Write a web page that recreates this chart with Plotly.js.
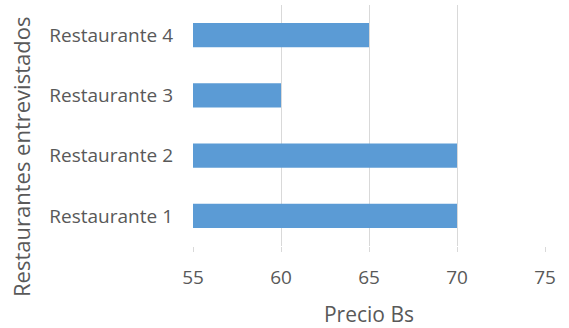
<!DOCTYPE html>
<html>
<head>
<meta charset="utf-8">
<script src="https://cdn.plot.ly/plotly-3.0.1.min.js"></script>
<style>html,body{margin:0;padding:0;background:#fff;}#chart{width:569px;height:328px;}</style>
</head>
<body>
<div id="chart"></div>
<script>
const categories = ["Restaurante 1", "Restaurante 2", "Restaurante 3", "Restaurante 4"];
const precios = [70, 70, 60, 65];
const xTicks = [55, 60, 65, 70, 75];

const FONT = "Open Sans, Liberation Sans, sans-serif";
const GRAY = "#595959";

const trace = {
  type: "bar",
  orientation: "h",
  y: categories,
  x: precios.map(v => v - 55),
  base: 55,
  width: 0.4,
  marker: {color: "#5B9BD5", line: {width: 0}},
  hoverinfo: "x+y"
};

const layout = {
  width: 569,
  height: 328,
  margin: {l: 193, r: 24, t: 5, b: 82},
  paper_bgcolor: "#fff",
  plot_bgcolor: "#fff",
  showlegend: false,
  font: {family: FONT, color: GRAY, size: 19},
  xaxis: {
    range: [55, 75],
    tickvals: xTicks,
    ticktext: xTicks.map(String),
    showgrid: true,
    gridcolor: "#D9D9D9",
    gridwidth: 1,
    zeroline: false,
    showline: false,
    ticks: "outside",
    ticklen: 5,
    tickcolor: "#D9D9D9",
    ticklabelstandoff: 9,
    tickfont: {family: FONT, size: 19, color: GRAY},
    title: {text: "Precio Bs", font: {family: FONT, size: 21, color: GRAY}, standoff: 18}
  },
  yaxis: {
    type: "category",
    categoryarray: categories,
    showgrid: false,
    zeroline: false,
    showline: false,
    ticks: "",
    ticklabelstandoff: 19,
    tickfont: {family: FONT, size: 19, color: GRAY}
  },
  annotations: [{
    text: "Restaurantes entrevistados",
    textangle: -90,
    xref: "paper", yref: "paper",
    x: (21 - 193) / 352, y: (246 - 157) / 241,
    xanchor: "center", yanchor: "middle",
    showarrow: false,
    font: {family: FONT, size: 22, color: GRAY}
  }]
};

Plotly.newPlot("chart", [trace], layout, {displayModeBar: false, staticPlot: true});
</script>
</body>
</html>
